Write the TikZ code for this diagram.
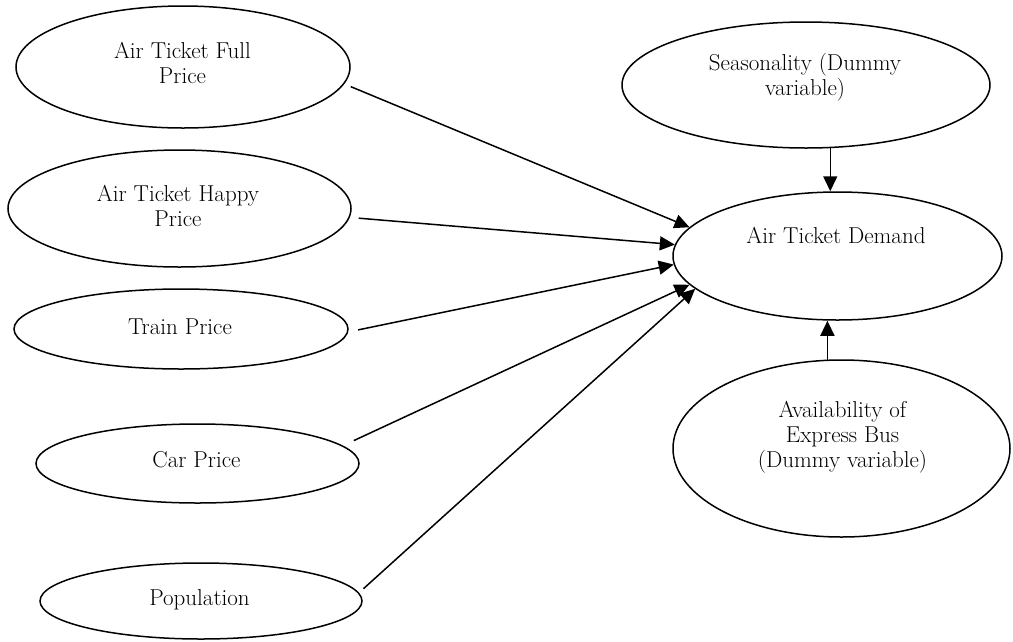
\documentclass[tikz,border=0pt]{standalone}
\usetikzlibrary{shapes.geometric,arrows.meta}
\begin{document}
\begin{tikzpicture}[x=1pt,y=-1pt,
  oval/.style={ellipse,draw,line width=1.5pt,inner sep=0pt},
  lbl/.style={align=center,font=\fontsize{23}{25}\selectfont,inner sep=0pt},
  link/.style={line width=1.5pt,-{Triangle[length=15pt,width=14pt]}}]
\useasboundingbox (0,0) rectangle (1013,641);
% ellipses
\node[oval,minimum width=334pt,minimum height=122pt] (full)   at (183,67) {};
\node[oval,minimum width=343pt,minimum height=117pt] (happy)  at (179.5,208.5) {};
\node[oval,minimum width=334pt,minimum height=80pt]  (train)  at (181,329) {};
\node[oval,minimum width=323pt,minimum height=79pt]  (car)    at (197.5,463.5) {};
\node[oval,minimum width=322pt,minimum height=76pt]  (pop)    at (201,601) {};
\node[oval,minimum width=368pt,minimum height=126pt] (seas)   at (806,85) {};
\node[oval,minimum width=329pt,minimum height=128pt] (demand) at (837.5,256) {};
\node[oval,minimum width=337pt,minimum height=177pt] (avail)  at (841.5,448.5) {};
% labels
\node[lbl] (fullT)   at (182.5,62.5) {Air Ticket Full\\Price};
\node[lbl] (happyT)  at (178,205.5) {Air Ticket Happy\\Price};
\node[lbl] (trainT)  at (180,327) {Train Price};
\node[lbl] (carT)    at (196.5,460) {Car Price};
\node[lbl] (popT)    at (199.5,600) {Population};
\node[lbl] (seasT)   at (805,77.5) {Seasonality (Dummy\\variable)};
\node[lbl] (demandT) at (836,235) {Air Ticket Demand};
\node[lbl] (availT)  at (842.5,437) {Availability of\\Express Bus\\(Dummy variable)};
% connectors
\draw[link,shorten <=7pt]  (full.-6.2)  -- (demand.169.4);
\draw[link,shorten <=9pt]  (happy.-3)   -- (demand.176.9);
\draw[link,shorten <=10pt] (train.-1.4) -- (demand.183.5);
\draw[link,shorten <=12pt] (car.7.5)    -- (demand.191.1);
\draw[link,shorten <=6pt]  (pop.3.3)    -- (demand.193.9);
\draw[link] (seas.-69.8) -- (seas.-69.8 |- demand.north);
\draw[link] (avail.99.3) -- (avail.99.3 |- demand.south);
\end{tikzpicture}
\end{document}
